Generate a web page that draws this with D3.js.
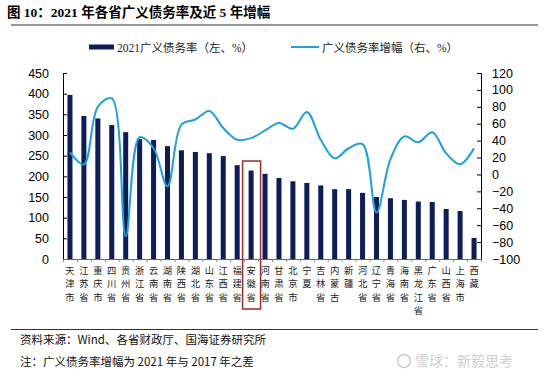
<!DOCTYPE html>
<html><head><meta charset="utf-8">
<script src="https://cdn.jsdelivr.net/npm/d3@7"></script>
<style>
html,body{margin:0;padding:0;background:#fff;}
svg{display:block;}
</style></head>
<body>
<script>
const provinces = ["天津市","江苏省","重庆市","四川省","贵州省","浙江省","云南省","湖南省","陕西省","湖北省","山东省","江西省","福建省","安徽省","河南省","甘肃省","北京市","宁夏","吉林省","内蒙古","新疆","河北省","辽宁省","青海省","海南省","黑龙江省","广东省","山西省","上海市","西藏"];
const debtRatio2021 = [397,346,340,324,307,290,288,273,263,259,256,249,227,214,206,196,188,184,178,169,169,160,150,147,143,139,138,121,116,51];
const ratioIncrease = [26,12,80,90,-73,44,31,-14,59,65,75,55,41,43,52,61,54,74,41,19,31,36,-45,18,45,38,50,25,12,31];
const leftTicks = [0,50,100,150,200,250,300,350,400,450];
const rightTicks = [-100,-80,-60,-40,-20,0,20,40,60,80,100,120];
const highlight = "安徽省";

const W = 546, H = 378;
const svg = d3.select("body").append("svg").attr("width", W).attr("height", H);
const L = 63, R = 481, T = 73, B = 259;
const cjk = "'Noto Sans CJK SC', sans-serif";
const serif = "'Liberation Serif', 'Noto Sans CJK SC', serif";
const barColor = "#0e1d57", lineColor = "#1ba1de";

// Title
svg.append("text").attr("x", 7).attr("y", 17).attr("font-family", serif)
  .attr("font-weight", "bold").attr("font-size", 13.5).attr("fill", "#000")
  .text("图 10：2021 年各省广义债务率及近 5 年增幅");
svg.append("line").attr("x1", 11).attr("x2", 538).attr("y1", 25).attr("y2", 25)
  .attr("stroke", "#333").attr("stroke-width", 1.2);

// Legend
svg.append("rect").attr("x", 89).attr("y", 44.5).attr("width", 25).attr("height", 5).attr("fill", barColor);
svg.append("text").attr("x", 117).attr("y", 51.5).attr("font-family", serif).attr("font-size", 11.5)
  .attr("fill", "#222").text("2021广义债务率（左、%）");
svg.append("line").attr("x1", 291).attr("x2", 319).attr("y1", 47).attr("y2", 47)
  .attr("stroke", lineColor).attr("stroke-width", 2);
svg.append("text").attr("x", 322).attr("y", 51.5).attr("font-family", serif).attr("font-size", 11.5)
  .attr("fill", "#222").text("广义债务率增幅（右、%）");

// Scales
const x = d3.scaleBand().domain(provinces).range([L, R]).padding(0);
const xi = d3.scaleLinear().domain([0, provinces.length]).range([L, R]);
const yL = d3.scaleLinear().domain([0, 450]).range([B, T]);
const yR = d3.scaleLinear().domain([-100, 120]).range([B, T]);
const bw = x.bandwidth() * 0.36;

// Bars
svg.append("g").selectAll("rect").data(provinces).join("rect")
  .attr("x", d => x(d) + x.bandwidth() / 2 - bw / 2)
  .attr("y", (d, i) => yL(debtRatio2021[i]))
  .attr("width", bw)
  .attr("height", (d, i) => B - yL(debtRatio2021[i]))
  .attr("fill", barColor);

// Axes
const axL = svg.append("g").attr("transform", `translate(${L},0)`)
  .call(d3.axisLeft(yL).tickValues(leftTicks).tickSize(-4).tickPadding(14));
const axR = svg.append("g").attr("transform", `translate(${R},0)`)
  .call(d3.axisRight(yR).tickValues(rightTicks).tickSize(-4).tickPadding(11));
const axB = svg.append("g").attr("transform", `translate(0,${B})`)
  .call(d3.axisBottom(xi).tickValues(d3.range(0, provinces.length + 1)).tickSize(3).tickFormat(""));
[axL, axR].forEach(g => {
  g.selectAll("text").attr("font-family", "'Liberation Sans', Arial, sans-serif").attr("font-size", 12.5).attr("fill", "#000");
  g.select(".domain").attr("stroke", "#000");
  g.selectAll(".tick line").attr("stroke", "#000");
});
axB.select(".domain").attr("stroke", "#666");
axB.selectAll(".tick line").attr("stroke", "#888");

// Line
const line = d3.line()
  .x((d, i) => x(provinces[i]) + x.bandwidth() / 2)
  .y(d => yR(d))
  .curve(d3.curveCatmullRom.alpha(0.5));
svg.append("path").datum(ratioIncrease).attr("d", line)
  .attr("fill", "none").attr("stroke", lineColor).attr("stroke-width", 2);

// X labels (vertical, one character per row)
const lab = svg.append("g").attr("font-family", cjk).attr("font-size", 9.3).attr("fill", "#222");
provinces.forEach(p => {
  Array.from(p).forEach((c, k) => {
    lab.append("text").attr("text-anchor", "middle")
      .attr("x", x(p) + x.bandwidth() / 2).attr("y", 273.5 + k * 13.5).text(c);
  });
});

// Highlight box
svg.append("rect")
  .attr("x", x(highlight) - 7.5 + x.bandwidth() / 2 - 1)
  .attr("y", 161).attr("width", 18).attr("height", 148)
  .attr("fill", "none").attr("stroke", "#9a2b2b").attr("stroke-width", 1.5);

// Footer
svg.append("line").attr("x1", 11).attr("x2", 538).attr("y1", 329.5).attr("y2", 329.5)
  .attr("stroke", "#333").attr("stroke-width", 1.2);
svg.append("text").attr("x", 20).attr("y", 344).attr("font-family", cjk).attr("font-size", 11.5)
  .attr("fill", "#111").text("资料来源：Wind、各省财政厅、国海证券研究所");
svg.append("text").attr("x", 20).attr("y", 366).attr("font-family", cjk).attr("font-size", 11.5)
  .attr("fill", "#111").text("注：广义债务率增幅为 2021 年与 2017 年之差");
svg.append("circle").attr("cx", 404).attr("cy", 361).attr("r", 6.5)
  .attr("fill", "none").attr("stroke", "#ccc").attr("stroke-width", 1.5);
svg.append("text").attr("x", 415).attr("y", 366).attr("font-family", cjk).attr("font-size", 14)
  .attr("fill", "#cfcfcf").text("雪球：新毅思考");
</script>
</body></html>
